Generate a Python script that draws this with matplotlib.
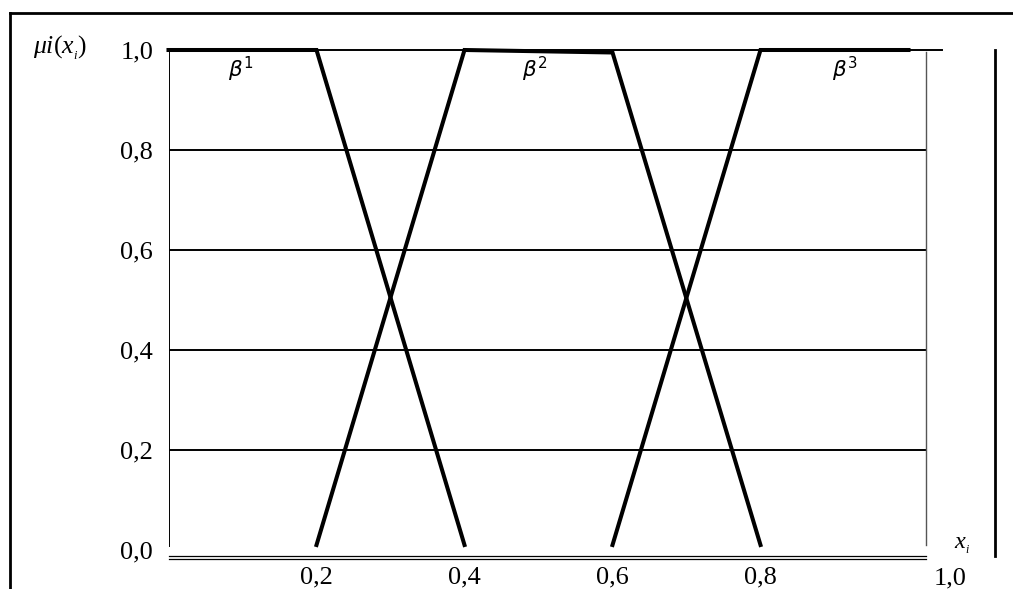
import matplotlib
matplotlib.use("Agg")
import matplotlib.pyplot as plt
from matplotlib.lines import Line2D

# Membership functions (trapezoids)
beta1_x = [0.0, 0.2, 0.4]
beta1_y = [1.0, 1.0, 0.01]
beta2_x = [0.2, 0.4, 0.6, 0.8]
beta2_y = [0.01, 1.0, 0.995, 0.01]
beta3_x = [0.6, 0.8, 1.0]
beta3_y = [0.01, 1.0, 1.0]

grid_levels = [0.2, 0.4, 0.6, 0.8]
y_ticks = [0.0, 0.2, 0.4, 0.6, 0.8, 1.0]
y_labels = ["0,0", "0,2", "0,4", "0,6", "0,8", "1,0"]
x_ticks = [0.2, 0.4, 0.6, 0.8]
x_labels = ["0,2", "0,4", "0,6", "0,8"]
beta_labels = [r"$\beta^1$", r"$\beta^2$", r"$\beta^3$"]
beta_label_x = [0.097, 0.495, 0.914]

plt.rcParams["font.family"] = ["Liberation Serif", "DejaVu Serif"]
plt.rcParams["mathtext.fontset"] = "custom"
plt.rcParams["mathtext.rm"] = "Liberation Serif"
plt.rcParams["mathtext.it"] = "Liberation Serif:italic"

W, H = 1013, 589
fig = plt.figure(figsize=(W / 100, H / 100), dpi=100)

# axes box in pixels: x 168.5..926, y 50..560
ax_l, ax_r, ax_t, ax_b = 168.5, 926, 50, 560
ax = fig.add_axes([ax_l / W, 1 - ax_b / H, (ax_r - ax_l) / W, (ax_b - ax_t) / H])
xmax = (ax_r - ax_l) / 740
ax.set_xlim(0, xmax)
ax.set_ylim(-0.02, 1.0)
for s in ax.spines.values():
    s.set_visible(False)

# grid
for g in grid_levels:
    ax.plot([0, xmax], [g, g], color="black", lw=1.4, solid_capstyle="butt")
ax.plot([0, 1.045], [1.0, 1.0], color="black", lw=1.4, clip_on=False)
ax.plot([0, 0], [0.008, 1.0], color="black", lw=1.4)
ax.plot([xmax, xmax], [0.01, 0.996], color="#555555", lw=1.0, clip_on=False)
ax.plot([0, xmax], [-0.012, -0.012], color="black", lw=0.9, clip_on=False)
ax.plot([0, xmax], [-0.0175, -0.0175], color="black", lw=0.9, clip_on=False)

# membership functions
for xs, ys in [(beta1_x, beta1_y), (beta2_x, beta2_y), (beta3_x, beta3_y)]:
    ax.plot(xs, ys, color="black", lw=2.9, clip_on=False, solid_joinstyle="miter")

for lab, bx in zip(beta_labels, beta_label_x):
    ax.text(bx, 0.962, lab, fontsize=15.5, ha="center", va="center",
            math_fontfamily="dejavusans")

ax.set_yticks(y_ticks, y_labels, fontsize=19)
ax.set_xticks(x_ticks, x_labels, fontsize=19)
ax.tick_params(axis="y", length=0, pad=11)
ax.tick_params(axis="x", length=0, pad=5)
ax.text(1.056, -0.0137, "1,0", fontsize=19, ha="center", va="top",
        transform=ax.get_xaxis_transform(), clip_on=False)

ax.text(1.072, 0.004, r"$x_{_i}$", fontsize=17.5, ha="center", va="baseline", clip_on=False)
ax.text(-0.183, 1.004, r"$\mu i(x_{_i})$", fontsize=18.5, ha="left", va="center", clip_on=False)

# outer frame lines
def px_line(x0, y0, x1, y1, lw=2.0):
    fig.add_artist(Line2D([x0 / W, x1 / W], [1 - y0 / H, 1 - y1 / H],
                          transform=fig.transFigure, color="black", lw=lw))

px_line(10, 13, W, 13)
px_line(10, 13, 10, H)
px_line(995, 50, 995, 556)

fig.savefig("out.png", dpi=100)
